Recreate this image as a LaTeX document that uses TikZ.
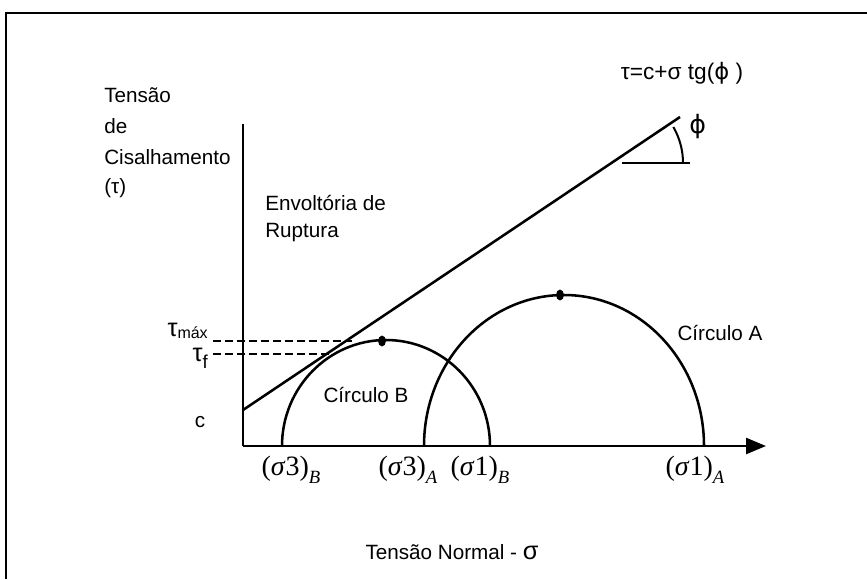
\documentclass[tikz,border=0pt]{standalone}
\usepackage{fontspec}
\setmainfont{Liberation Serif}
\setsansfont{Liberation Sans}
\newfontfamily\symfont{DejaVu Sans}
\usetikzlibrary{arrows.meta}
\begin{document}
\begin{tikzpicture}[x=0.75pt,y=-0.75pt,
  lab/.style={font=\sffamily\fontsize{15.5}{18}\selectfont, inner sep=0pt},
  xlab/.style={font=\rmfamily\fontsize{21}{23}\selectfont, inner sep=0pt},
  axisline/.style={line width=1.9pt},
  curve/.style={line width=1.9pt},
  guide/.style={line width=1.4pt, dash pattern=on 6pt off 3pt},
  dotmark/.style={fill=black, draw=black, line width=0.6pt}]
\useasboundingbox (0,0) rectangle (867,579);
% frame
\draw[line width=1.8pt] (6,579) -- (6,13) -- (867,13);
% axes
\coordinate (O) at (243,446);
\coordinate (ytop) at (243,124);
\coordinate (xtip) at (766,446);
\draw[axisline] (ytop) -- (O);
\draw[axisline, -{Triangle[length=15pt,width=12pt]}] (O) -- (xtip);
% rupture envelope
\coordinate (e0) at (243,410);
\coordinate (e1) at (680,117);
\draw[curve] (e0) -- (e1);
% angle phi
\coordinate (h0) at (622,163);
\coordinate (h1) at (690,163);
\draw[line width=1.5pt] (h0) -- (h1);
\draw[line width=1.5pt] (683,163) arc[start angle=0, end angle=-30, radius=72];
\node[lab, anchor=west] (phi) at (689,127) {\symfont\fontsize{19}{20}\selectfont ϕ};
\node[lab] (eq) at (682,73) {\fontsize{17}{19}\selectfont τ=c+σ tg({\symfont ϕ} )};
% circles
\coordinate (B3) at (282,446);
\coordinate (A3) at (424,446);
\draw[curve] (B3) arc[start angle=180, end angle=360, x radius=104, y radius=106];
\draw[curve] (A3) arc[start angle=180, end angle=360, x radius=140, y radius=151];
\fill[dotmark] (382,341) ellipse[x radius=3.5, y radius=5];
\fill[dotmark] (560,295) ellipse[x radius=3.5, y radius=5];
% dashed guides
\coordinate (tm0) at (213,341);
\coordinate (tm1) at (352,341);
\coordinate (tf0) at (213,354);
\coordinate (tf1) at (330,354);
\draw[guide] (tm0) -- (tm1);
\draw[guide] (tf0) -- (tf1);
% y labels
\node[lab, anchor=east] (taumax) at (208,331) {\fontsize{19}{20}\selectfont τ\raisebox{-2pt}{\fontsize{12}{12}\selectfont máx}};
\node[lab, anchor=east] (tauf) at (208,358) {\fontsize{19}{20}\selectfont τ\raisebox{-5pt}{\fontsize{14}{14}\selectfont f}};
\node[lab] (c) at (200,422) {c};
% axis titles
\node[lab, anchor=west] (t1) at (104,95) {Tensão};
\node[lab, anchor=west] (t2) at (104,126) {de};
\node[lab, anchor=west] (t3) at (104,157) {Cisalhamento};
\node[lab, anchor=west] (t4) at (104,188) {(τ)};
\node[lab, anchor=west] (env1) at (265,203) {Envoltória de};
\node[lab, anchor=west] (env2) at (265,233) {Ruptura};
\node[lab] (cB) at (366,395) {Círculo B};
\node[lab] (cA) at (720,333) {Círculo A};
\node[lab] (xt) at (452,552) {Tensão Normal - \fontsize{19}{20}\selectfont σ};
% x labels
\node[xlab] (lB3) at (291,470) {(\textit{σ}3)\raisebox{-6pt}{\fontsize{14}{14}\selectfont\textit{B}}};
\node[xlab] (lA3) at (408,470) {(\textit{σ}3)\raisebox{-6pt}{\fontsize{14}{14}\selectfont\textit{A}}};
\node[xlab] (lB1) at (480,470) {(\textit{σ}1)\raisebox{-6pt}{\fontsize{14}{14}\selectfont\textit{B}}};
\node[xlab] (lA1) at (695,470) {(\textit{σ}1)\raisebox{-6pt}{\fontsize{14}{14}\selectfont\textit{A}}};
\end{tikzpicture}
\end{document}
